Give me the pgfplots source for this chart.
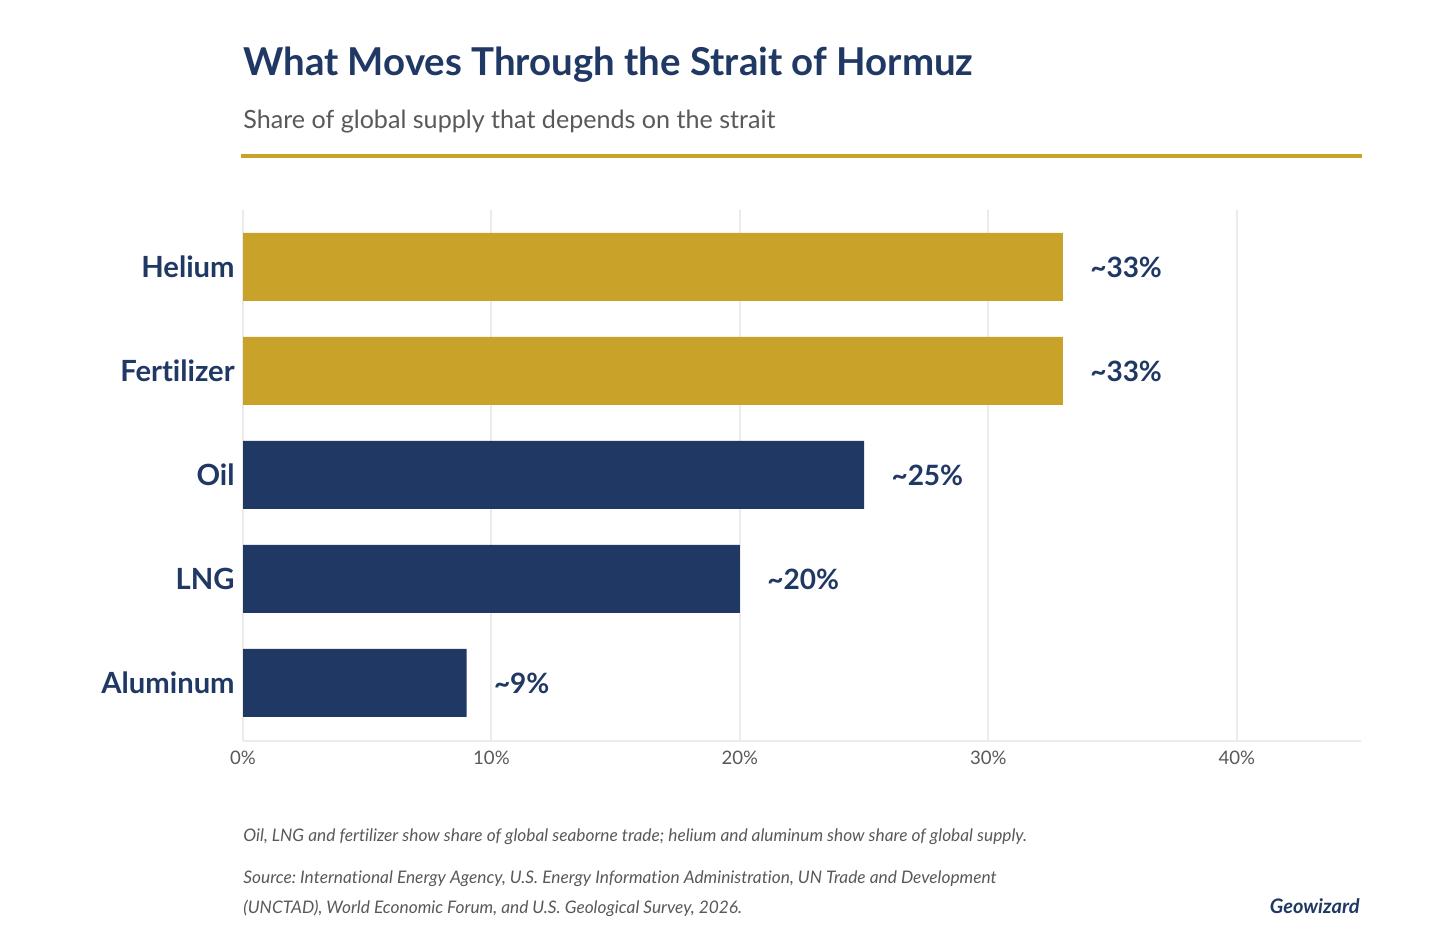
\documentclass[border=0pt]{standalone}
\usepackage{fontspec}
\setmainfont{Lato}[Ligatures={NoCommon}]
\usepackage{pgfplots}
\pgfplotsset{compat=1.18}
\definecolor{navy}{HTML}{1F3864}
\definecolor{gold}{HTML}{C9A22A}
\definecolor{subgrey}{HTML}{595959}
\definecolor{gridgrey}{HTML}{EBEBEB}
\frenchspacing
\begin{document}
\begin{tikzpicture}
\path[use as bounding box,fill=white] (0,0) rectangle (716bp,-475.5bp);
% title
\node[anchor=base west,inner sep=0,text=navy,font=\fontsize{19.2bp}{22bp}\selectfont\bfseries] at (121.5bp,-37.9bp) {What Moves Through the Strait of Hormuz};
\node[anchor=base west,inner sep=0,text=subgrey,font=\fontsize{12.55bp}{14bp}\selectfont] at (121.5bp,-64bp) {Share of global supply that depends on the strait};
\draw[gold,line width=2bp] (120.5bp,-78bp) -- (681bp,-78bp);
\begin{axis}[
  at={(121.5bp,-370.5bp)}, anchor=south west,
  width=559bp, height=265.5bp, scale only axis,
  xmin=0, xmax=45, ymin=-0.558, ymax=4.548,
  xbar, bar width=0.654,
  /pgf/number format/assume math mode=true,
  axis x line*=bottom, axis y line*=left,
  x axis line style={draw=gridgrey,line width=1bp,-},
  y axis line style={draw=none},
  xtick={0,10,20,30,40},
  xticklabels={0\%,10\%,20\%,30\%,40\%},
  xticklabel style={text=subgrey,font=\fontsize{9.3bp}{11bp}\selectfont,inner sep=0,yshift=-5bp},
  major tick length=0pt,
  xtick style={draw=none}, ytick style={draw=none},
  xmajorgrids, grid style={draw=gridgrey,line width=1bp},
  ytick={0,1,2,3,4},
  yticklabels={Aluminum,LNG,Oil,Fertilizer,Helium},
  yticklabel style={text=navy,font=\fontsize{14.6bp}{17bp}\selectfont\bfseries,inner sep=0,xshift=-4bp},
  clip=false,
  nodes near coords={\textasciitilde\pgfmathprintnumber{\pgfplotspointmeta}\%},
  point meta=explicit,
  every node near coord/.append style={anchor=west,inner sep=0,xshift=13.5bp,text=navy,font=\fontsize{14bp}{17bp}\selectfont\bfseries},
]
\addplot[fill=gold,draw=none,bar shift=0pt] coordinates {(33,4)[33] (33,3)[33]};
\addplot[fill=navy,draw=none,bar shift=0pt] coordinates {(25,2)[25] (20,1)[20] (9,0)[9]};
\end{axis}
\begin{scope}[every node/.style={anchor=base west,inner sep=0,text=subgrey,font=\fontsize{8.65bp}{10bp}\selectfont\itshape}]
\node at (121.5bp,-420.8bp) {Oil, LNG and fertilizer show share of global seaborne trade; helium and aluminum show share of global supply.};
\node at (121.5bp,-441.5bp) {Source: International Energy Agency, U.S. Energy Information Administration, UN Trade and Development};
\node at (121.5bp,-456.8bp) {(UNCTAD), World Economic Forum, and U.S. Geological Survey, 2026.};
\end{scope}
\node[anchor=base east,inner sep=0,text=navy,font=\fontsize{10bp}{12bp}\selectfont\bfseries\itshape] at (680bp,-456.8bp) {Geowizard};
\end{tikzpicture}
\end{document}
